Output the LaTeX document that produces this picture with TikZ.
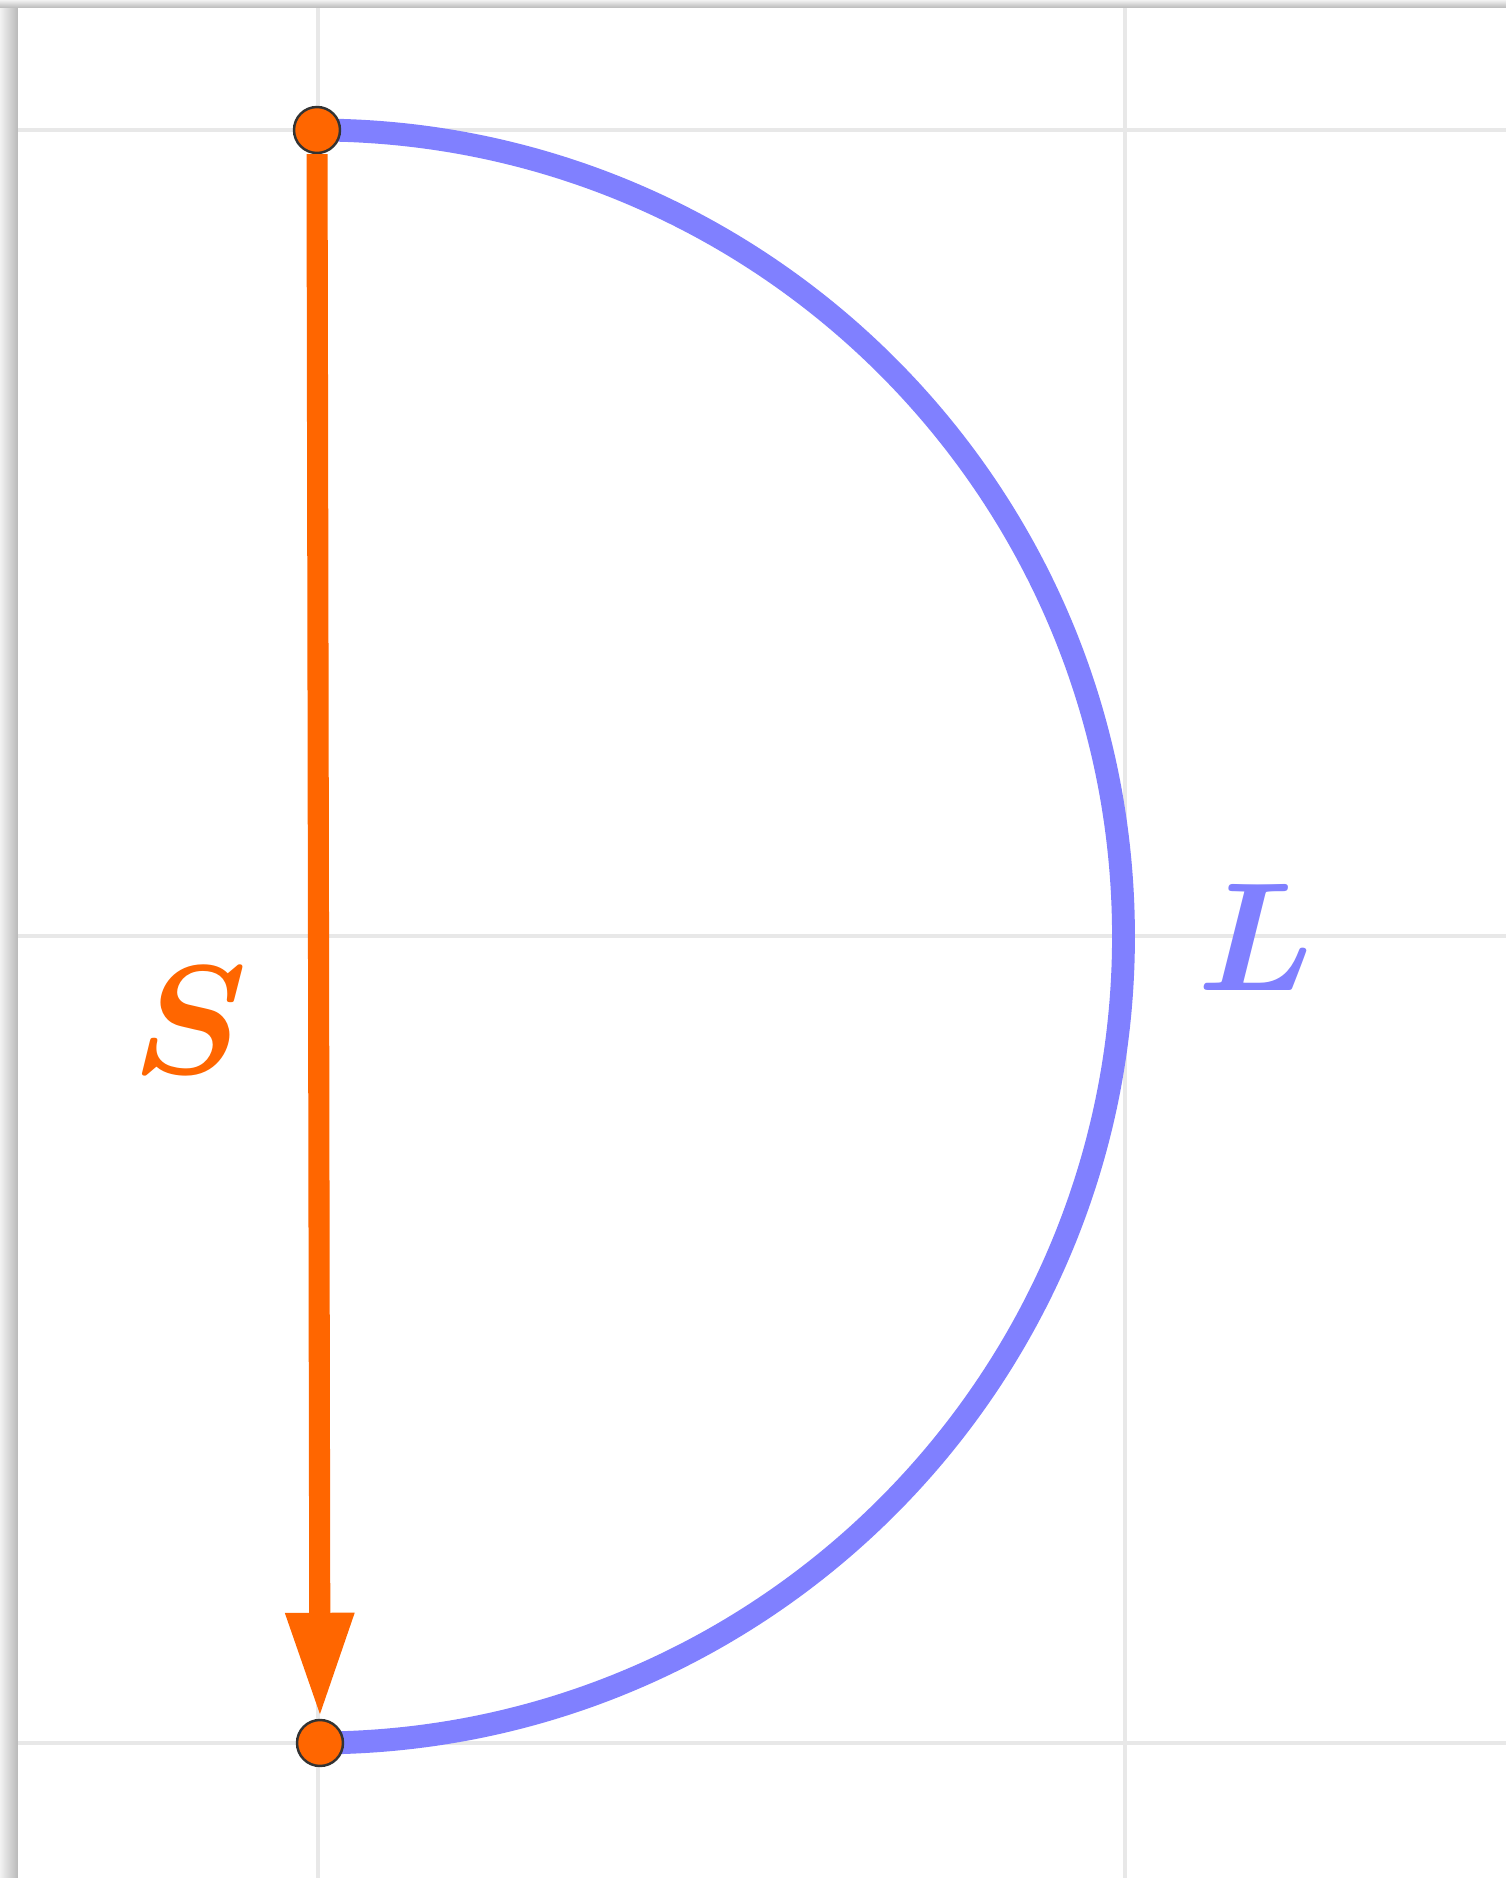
\documentclass[tikz,border=0pt]{standalone}
\usepackage{graphicx}
\usepackage{xcolor}
\definecolor{pathorange}{RGB}{255, 102, 0}
\definecolor{arcblue}{RGB}{128, 128, 255}
\definecolor{gridgray}{RGB}{232, 232, 232}
\usepackage{tikz}
\usetikzlibrary{arrows.meta, positioning, calc}

\newcommand{\biglabel}[1]{\scalebox{4.4}{\boldmath$#1$}}

\begin{document}
\begin{tikzpicture}[
    dot/.style={circle, fill=pathorange, draw=black!80, line width=0.7pt, minimum size=0.46cm, inner sep=0pt},
    gridline/.style={draw=gridgray, line width=1.2pt},
    vec/.style={draw=pathorange, line width=6pt, -{Triangle[length=1.06cm, width=0.63cm]}},
    curve/.style={draw=arcblue, line width=6.5pt},
    lbl/.style={inner sep=0pt}
  ]
    % frame with shadow
    \useasboundingbox (0,0) rectangle (15.06,18.78);
    \shade[left color=gray!10, right color=gray!55] (0,0) rectangle (0.18,18.78);
    \shade[top color=gray!10, bottom color=gray!55] (0,18.70) rectangle (15.06,18.78);
    \fill[white] (0.18,0) rectangle (15.06,18.70);
    % grid
    \foreach \gx in {3.18, 11.25}
      \draw[gridline] (\gx,0) -- (\gx,18.70);
    \foreach \gy in {1.35, 9.42, 17.48}
      \draw[gridline] (0.18,\gy) -- (15.06,\gy);
    % semicircle and chord
    \coordinate (A) at (3.17, 17.48);
    \coordinate (B) at (3.20, 1.35);
    \draw[curve] (A) arc[start angle=90, end angle=-90, radius=8.065];
    \node[dot] (top) at (A) {};
    \node[dot] (bot) at (B) {};
    \draw[vec] (top) -- (bot);
    \node[lbl, text=pathorange] (S) at (1.90, 8.58) {\biglabel{S}};
    \node[lbl, text=arcblue] (L) at (12.56, 9.41) {\biglabel{L}};
  \end{tikzpicture}
\end{document}
